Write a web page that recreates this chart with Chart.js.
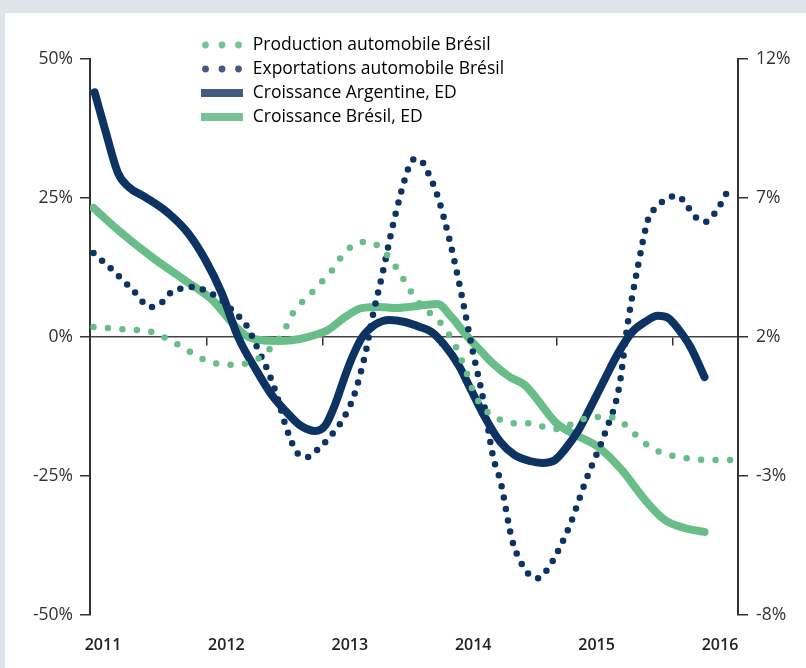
<!DOCTYPE html>
<html><head><meta charset="utf-8">
<script src="https://cdn.jsdelivr.net/npm/chart.js@4.4.0/dist/chart.umd.min.js"></script>
<style>
html,body{margin:0;padding:0;background:#dfe3ea;width:806px;height:668px;overflow:hidden;}
#wrap{position:absolute;left:5px;top:13px;width:801px;height:655px;background:#fff;}
canvas{display:block;}
</style></head><body>
<div id="wrap"><canvas id="c" width="801" height="655"></canvas></div>
<script>
// ---- tick labels / axes ----
const years = [2011, 2012, 2013, 2014, 2015, 2016];
const leftTicks = [-50, -25, 0, 25, 50];
const rightTicks = [-8, -3, 2, 7, 12];
const seriesNames = ['Production automobile Brésil', 'Exportations automobile Brésil', 'Croissance Argentine, ED', 'Croissance Brésil, ED'];

// ---- Production automobile Brésil (left axis, %) ----
const prodX = [2011.03,2011.28,2011.53,2011.63,2011.73,2011.83,2011.93,2012.04,2012.16,2012.28,2012.39,2012.50,2012.57,2012.65,2012.69,2012.74,2012.81,2012.89,2012.96,2013.04,2013.11,2013.17,2013.25,2013.35,2013.47,2013.61,2013.67,2013.73,2013.78,2013.93,2014.02,2014.13,2014.22,2014.30,2014.41,2014.52,2014.63,2014.75,2014.86,2014.97,2015.07,2015.19,2015.31,2015.42,2015.53,2015.62,2015.70,2015.79,2015.89,2016.00,2016.12,2016.25,2016.37,2016.49];
const prodY = [1.8,1.4,0.9,0,-1.1,-2.3,-3.6,-4.5,-5.0,-5.0,-4.3,-3.2,-1.4,0.4,2.2,4.3,6.1,7.7,9.4,11.0,13.0,14.8,16.4,17.1,16.4,13.0,11.0,9.0,7.2,4.0,2.2,-1.4,-5.9,-10.4,-13.5,-14.9,-15.5,-15.5,-16.0,-16.6,-16.2,-15.1,-14.4,-14.4,-14.8,-16.4,-18.0,-19.6,-20.7,-21.4,-21.8,-22.1,-22.1,-22.1];

// ---- Exportations automobile Brésil (left axis, %) ----
const expX = [2011.03,2011.20,2011.36,2011.52,2011.62,2011.70,2011.81,2011.90,2012.01,2012.11,2012.20,2012.28,2012.35,2012.44,2012.53,2012.60,2012.69,2012.78,2012.87,2012.96,2013.04,2013.11,2013.17,2013.26,2013.32,2013.37,2013.43,2013.50,2013.61,2013.72,2013.76,2013.80,2013.85,2013.90,2013.98,2014.09,2014.18,2014.28,2014.37,2014.46,2014.52,2014.62,2014.70,2014.76,2014.84,2014.93,2015.03,2015.12,2015.26,2015.42,2015.54,2015.61,2015.70,2015.79,2015.85,2015.94,2016.04,2016.12,2016.19,2016.28,2016.36,2016.42,2016.47];
const expY = [15.1,11.9,8.6,5.4,6.3,8.1,8.8,9.0,8.1,7.0,5.2,3.6,1.8,-2.2,-6.3,-10.4,-16.7,-20.9,-21.6,-20.1,-18.4,-16.6,-14.8,-10.8,-6.5,-2.2,4.3,10.6,21.2,29.7,31.7,32.0,31.5,29.5,25.4,16.9,8.3,-2.3,-11.0,-21.8,-25.9,-36.5,-40.7,-42.6,-43.4,-41.6,-37.8,-33.6,-25.4,-17.1,-8.8,2.2,12.8,21.4,23.2,24.8,25.4,23.6,21.6,20.7,22.3,24.3,26.3];

// ---- Croissance Argentine, ED (right axis, %) ----
const argX = [2011.04,2011.13,2011.24,2011.33,2011.47,2011.67,2011.84,2011.99,2012.13,2012.27,2012.44,2012.56,2012.67,2012.80,2012.93,2013.02,2013.10,2013.19,2013.25,2013.33,2013.44,2013.57,2013.70,2013.83,2013.93,2014.04,2014.16,2014.26,2014.39,2014.52,2014.64,2014.77,2014.88,2014.99,2015.07,2015.19,2015.29,2015.42,2015.53,2015.65,2015.76,2015.87,2015.96,2016.04,2016.15,2016.27];
const argY = [10.8,9.45,7.9,7.4,7.04,6.46,5.74,4.77,3.58,2.0,0.71,-0.09,-0.63,-1.17,-1.38,-1.17,-0.45,0.63,1.28,1.96,2.43,2.61,2.54,2.36,2.18,1.71,0.99,0.17,-0.91,-1.78,-2.24,-2.46,-2.53,-2.42,-2.06,-1.35,-0.55,0.53,1.42,2.18,2.54,2.76,2.68,2.32,1.64,0.56];

// ---- Croissance Brésil, ED (right axis, %) ----
const brX = [2011.03,2011.24,2011.53,2011.81,2012.05,2012.22,2012.33,2012.46,2012.63,2012.80,2012.93,2013.04,2013.19,2013.33,2013.49,2013.62,2013.74,2013.87,2013.98,2014.10,2014.24,2014.36,2014.47,2014.60,2014.73,2014.84,2014.99,2015.13,2015.36,2015.56,2015.76,2015.93,2016.10,2016.27];
const brY = [6.64,5.85,4.88,4.05,3.33,2.5,2.07,1.89,1.86,1.93,2.07,2.25,2.72,3.04,3.08,3.04,3.08,3.15,3.19,2.72,2.0,1.46,0.99,0.56,0.27,-0.27,-1.06,-1.45,-1.96,-2.78,-3.86,-4.58,-4.87,-5.01];

const NAVY = '#0d3362';
const GREEN = '#69bd88';
const NAVY_L = '#435b80';
const GREEN_L = '#78c393';
const AXIS = '#333333';
const FONT = "'Open Sans', 'Noto Sans', sans-serif";
const LFS = 17.5;      // legend font size
const LPAD = 6.5;      // legend padding

const pts = (xs, ys) => xs.map((x, i) => ({x: x, y: ys[i]}));

function dotIcon(color) {
  const c = document.createElement('canvas'); c.width = 44; c.height = 12;
  const g = c.getContext('2d'); g.fillStyle = color;
  [5.5, 22, 38.5].forEach(x => { g.beginPath(); g.arc(x, 6, 3.4, 0, Math.PI * 2); g.fill(); });
  return c;
}
function barIcon(color) {
  const c = document.createElement('canvas'); c.width = 44; c.height = 8;
  const g = c.getContext('2d'); g.fillStyle = color; g.fillRect(1, 0, 42, 8);
  return c;
}
const icons = [dotIcon(GREEN_L), dotIcon(NAVY_L), barIcon(NAVY_L), barIcon(GREEN_L)];

const legendPos = {
  id: 'legendPos',
  afterLayout(chart) {
    const lg = chart.legend;
    const w = lg.width;
    const L = 195 - LPAD, T = 32 - LPAD - LFS / 2;
    lg.left = L; lg.top = T; lg.right = L + w; lg.bottom = T + 200;
  }
};

const xMin = 2011, xMax = 2011 + 648 / 116.6;
const lblMin = 2011 - 13 / 123.4, lblMax = lblMin + 648 / 123.4;

new Chart(document.getElementById('c'), {
  type: 'line',
  data: {
    datasets: [
      { label: seriesNames[0], data: pts(prodX, prodY), yAxisID: 'y', xAxisID: 'x',
        borderColor: GREEN, borderWidth: 6.5, borderDash: [0, 14.5], borderCapStyle: 'round',
        pointRadius: 0, cubicInterpolationMode: 'monotone', fill: false },
      { label: seriesNames[1], data: pts(expX, expY), yAxisID: 'y', xAxisID: 'x',
        borderColor: NAVY, borderWidth: 6.5, borderDash: [0, 11.5], borderCapStyle: 'round',
        pointRadius: 0, cubicInterpolationMode: 'monotone', fill: false },
      { label: seriesNames[2], data: pts(argX, argY), yAxisID: 'y2', xAxisID: 'x',
        borderColor: NAVY, borderWidth: 8, borderCapStyle: 'round', borderJoinStyle: 'round',
        pointRadius: 0, cubicInterpolationMode: 'monotone', fill: false },
      { label: seriesNames[3], data: pts(brX, brY), yAxisID: 'y2', xAxisID: 'x',
        borderColor: GREEN, borderWidth: 8, borderCapStyle: 'round', borderJoinStyle: 'round',
        pointRadius: 0, cubicInterpolationMode: 'monotone', fill: false }
    ]
  },
  options: {
    responsive: false, animation: false, devicePixelRatio: 1,
    layout: { padding: { top: 46, left: 0, right: 0, bottom: 0 } },
    plugins: {
      tooltip: { enabled: false },
      legend: {
        position: 'chartArea', align: 'start',
        labels: {
          usePointStyle: true, pointStyleWidth: 44, padding: LPAD,
          color: '#333', font: { family: FONT, size: LFS },
          generateLabels: (chart) => chart.data.datasets.map((d, i) => ({
            text: d.label, pointStyle: icons[i], datasetIndex: i,
            fillStyle: 'rgba(0,0,0,0)', strokeStyle: 'rgba(0,0,0,0)', lineWidth: 0, hidden: false
          }))
        }
      }
    },
    scales: {
      x: {
        type: 'linear', min: xMin, max: xMax, position: { y: 0 },
        afterBuildTicks: s => { s.ticks = years.map(v => ({ value: v })); },
        ticks: { display: true, color: 'rgba(0,0,0,0)', font: { size: 1 }, padding: 0 },
        grid: { drawOnChartArea: false, drawTicks: true, tickLength: 8, color: AXIS, lineWidth: 1.5 },
        border: { display: true, color: '#444', width: 1.5 }
      },
      xl: {
        type: 'linear', min: lblMin, max: lblMax, position: 'bottom',
        afterBuildTicks: s => { s.ticks = years.map(v => ({ value: v })); },
        afterFit: s => { s.height = 53; },
        ticks: { color: '#222', padding: 13, maxRotation: 0, autoSkip: false,
                 font: { family: FONT, size: 16, weight: '600' }, callback: v => String(v) },
        grid: { display: false }, border: { display: false }
      },
      y: {
        type: 'linear', position: 'left', min: -50, max: 50,
        afterBuildTicks: s => { s.ticks = leftTicks.map(v => ({ value: v })); },
        afterFit: s => { s.width = 85; },
        ticks: { color: '#333', padding: 7, font: { family: FONT, size: 17.5 }, callback: v => v + '%' },
        grid: { drawOnChartArea: false, drawTicks: true, tickLength: 10, color: AXIS, lineWidth: 1.5 },
        border: { display: true, color: AXIS, width: 2 }
      },
      y2: {
        type: 'linear', position: 'right', min: -8, max: 12,
        afterBuildTicks: s => { s.ticks = rightTicks.map(v => ({ value: v })); },
        afterFit: s => { s.width = 68; },
        ticks: { color: '#333', padding: 8, font: { family: FONT, size: 17.5 }, callback: v => v + '%' },
        grid: { drawOnChartArea: false, drawTicks: true, tickLength: 10, color: AXIS, lineWidth: 1.5 },
        border: { display: true, color: AXIS, width: 2 }
      }
    }
  },
  plugins: [legendPos]
});
</script>
</body></html>
